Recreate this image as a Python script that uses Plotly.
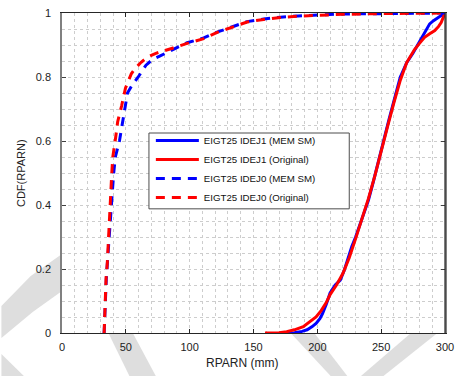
import plotly.graph_objects as go

# Empirical CDFs of RPARN (mm) for two EIGT25 configurations
idej1_mem_x = [175, 182, 188, 192, 196, 199, 202, 204, 207, 210, 214, 218, 221, 224, 226, 227,
               230, 233, 236, 240, 244, 248, 252, 256, 260, 265, 270, 275, 280, 284, 288, 291,
               295, 298, 300]
idej1_mem_y = [0, 0.001, 0.005, 0.01, 0.02, 0.03, 0.045, 0.06, 0.09, 0.125, 0.15, 0.165, 0.195,
               0.235, 0.255, 0.27, 0.3, 0.336, 0.365, 0.415, 0.475, 0.54, 0.6, 0.665, 0.725, 0.8,
               0.845, 0.875, 0.91, 0.94, 0.966, 0.976, 0.987, 0.993, 1.0]

idej1_orig_x = [159, 170, 176, 182, 189, 195, 199, 203, 207, 210, 215, 220, 225, 230, 235, 240,
                245, 250, 255, 260, 265, 270, 276, 280, 284, 288, 292, 295, 297, 299, 300]
idej1_orig_y = [0, 0.001, 0.004, 0.01, 0.02, 0.037, 0.05, 0.07, 0.095, 0.12, 0.15, 0.186, 0.235,
                0.295, 0.355, 0.42, 0.49, 0.57, 0.645, 0.72, 0.79, 0.845, 0.885, 0.905, 0.924,
                0.935, 0.945, 0.958, 0.97, 0.99, 1.0]

idej0_mem_x = [33, 33.8, 34.7, 35.8, 36.8, 37.7, 38.5, 39.5, 40.5, 41.8, 45, 47.2, 49.7, 51.3,
               55, 59.7, 65.8, 71, 76.5, 82, 88, 98, 111, 122, 134, 145, 158, 171, 185, 198,
               220, 250, 280, 300]
idej0_mem_y = [0, 0.1, 0.17, 0.233, 0.3, 0.35, 0.39, 0.445, 0.5, 0.55, 0.6, 0.656, 0.705, 0.75,
               0.775, 0.8, 0.837, 0.855, 0.865, 0.877, 0.888, 0.907, 0.922, 0.941, 0.958, 0.973,
               0.981, 0.987, 0.991, 0.994, 0.997, 0.998, 0.999, 1.0]

idej0_orig_x = [33, 33.7, 34.5, 35.5, 36.7, 37.5, 38.3, 39, 39.8, 42, 43.6, 46.7, 49.7, 54.3,
                58, 62, 67, 73.5, 80, 86.5, 98, 111, 122, 134, 145, 158, 171, 185, 198, 220,
                250, 280, 300]
idej0_orig_y = [0, 0.1, 0.17, 0.22, 0.336, 0.39, 0.445, 0.5, 0.55, 0.61, 0.66, 0.71, 0.765,
                0.81, 0.83, 0.846, 0.862, 0.874, 0.883, 0.89, 0.905, 0.92, 0.94, 0.957, 0.972,
                0.98, 0.986, 0.99, 0.993, 0.996, 0.998, 0.999, 1.0]

series_names = ["EIGT25 IDEJ1 (MEM SM)", "EIGT25 IDEJ1 (Original)",
                "EIGT25 IDEJ0 (MEM SM)", "EIGT25 IDEJ0 (Original)"]

x_ticks = [0, 50, 100, 150, 200, 250, 300]
y_ticks = [0, 0.2, 0.4, 0.6, 0.8, 1]
y_tick_text = ["0", "0.2", "0.4", "0.6", "0.8", "1"]

BLUE = "rgb(0,0,255)"
RED = "rgb(255,0,0)"
FONT = "Liberation Sans, Arial, sans-serif"
DASH = "9px,7px"

W, H = 455, 376
M_L, M_R, M_T, M_B = 62, 1, 13, 43
PLOT_W = W - M_L - M_R
PLOT_H = H - M_T - M_B


def to_paper(px, py):
    """Convert pixel position on the page to paper coordinates."""
    return (px - M_L) / PLOT_W, (H - M_B - py) / PLOT_H


def poly_path(points):
    pts = [to_paper(*p) for p in points]
    return "M " + " L ".join(f"{x:.4f},{y:.4f}" for x, y in pts) + " Z"


fig = go.Figure()
fig.add_trace(go.Scatter(x=idej1_mem_x, y=idej1_mem_y, mode="lines", name=series_names[0],
                         line=dict(color=BLUE, width=3)))
fig.add_trace(go.Scatter(x=idej1_orig_x, y=idej1_orig_y, mode="lines", name=series_names[1],
                         line=dict(color=RED, width=3)))
fig.add_trace(go.Scatter(x=idej0_mem_x, y=idej0_mem_y, mode="lines", name=series_names[2],
                         line=dict(color=BLUE, width=3, dash=DASH)))
fig.add_trace(go.Scatter(x=idej0_orig_x, y=idej0_orig_y, mode="lines", name=series_names[3],
                         line=dict(color=RED, width=3, dash=DASH)))

grid = dict(gridcolor="#cdcdcd", griddash="dot", gridwidth=1)

fig.update_xaxes(
    range=[0, 300], tickvals=x_ticks, ticktext=[str(v) for v in x_ticks],
    showline=True, linecolor="#262626", linewidth=1.2, mirror="ticks",
    ticks="inside", ticklen=4, tickcolor="#262626", ticklabelstandoff=4,
    ticklabeloverflow="allow",
    showgrid=True, **grid, zeroline=False,
    minor=dict(dtick=10, showgrid=True, ticks="", **grid),
    tickfont=dict(family=FONT, size=11, color="#222"),
)
fig.update_yaxes(
    range=[0, 1], tickvals=y_ticks, ticktext=y_tick_text,
    showline=True, linecolor="#808080", linewidth=1.6, mirror="ticks",
    ticks="inside", ticklen=4, tickcolor="#404040", ticklabelstandoff=7,
    ticklabeloverflow="allow",
    showgrid=True, **grid, zeroline=False,
    minor=dict(dtick=0.05, showgrid=True, ticks="", **grid),
    tickfont=dict(family=FONT, size=11, color="#222"),
)

# faint background emblem strokes in the margins
emblem_color = "#dedede"
emblem_polys = [
    [(0, 306), (30, 276), (62, 254), (62, 291), (32, 312), (0, 338)],
    [(0, 354), (23, 376), (0, 376)],
    [(110, 334), (135, 334), (158, 376), (131, 376)],
    [(297, 334), (321, 334), (354, 376), (337, 376)],
    [(418, 334), (445, 334), (391, 376), (368, 376)],
]
shapes = [dict(type="path", xref="paper", yref="paper", path=poly_path(p),
               fillcolor=emblem_color, line=dict(width=0), layer="below")
          for p in emblem_polys]

# legend frame
shapes.append(dict(type="rect", xref="paper", yref="paper",
                   x0=0.227, x1=0.750, y0=0.388, y1=0.625,
                   line=dict(color="#4d4d4d", width=1), fillcolor="white", layer="above"))
# right-hand frame edge
shapes.append(dict(type="line", xref="paper", yref="paper", x0=1, x1=1, y0=0, y1=1,
                   line=dict(color="#262626", width=1.2), layer="above"))

fig.update_layout(
    width=W, height=H,
    margin=dict(l=M_L, r=M_R, t=M_T, b=M_B),
    paper_bgcolor="white", plot_bgcolor="white",
    font=dict(family=FONT, size=11, color="#222"),
    showlegend=True,
    legend=dict(x=0.232, y=0.647, xanchor="left", yanchor="top",
                bgcolor="rgba(0,0,0,0)", borderwidth=0,
                font=dict(family=FONT, size=9.7, color="#111"),
                itemwidth=43, tracegroupgap=0),
    shapes=shapes,
    annotations=[
        dict(text="RPARN (mm)", xref="paper", yref="paper", x=0.469, y=-0.094,
             xanchor="center", yanchor="middle", showarrow=False,
             font=dict(family=FONT, size=12, color="#222")),
        dict(text="CDF(RPARN)", xref="paper", yref="paper", x=-0.107, y=0.5,
             xanchor="center", yanchor="middle", showarrow=False, textangle=-90,
             font=dict(family=FONT, size=11, color="#222")),
    ],
)

fig.write_html("out.html")
